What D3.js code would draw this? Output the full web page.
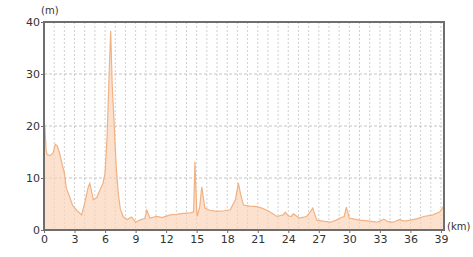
<!DOCTYPE html>
<html>
<head>
<meta charset="utf-8">
<script src="https://cdn.jsdelivr.net/npm/d3@7"></script>
<style>
  body { margin: 0; background: #fff; }
  svg { display: block; font-family: "DejaVu Sans", sans-serif; }
</style>
</head>
<body>
<div id="chart"></div>
<script>
// distance along the route (km) and elevation (m)
const distances = [
  0, 0.1, 0.2, 0.3, 0.6, 0.9, 1.1, 1.3, 1.5, 1.8, 2.0, 2.2, 2.5, 2.8, 3.2, 3.7,
  4.0, 4.35, 4.5, 4.85, 5.2, 5.5, 5.8, 6.0, 6.2, 6.4, 6.55, 6.7, 6.9, 7.1, 7.3,
  7.5, 7.8, 8.2, 8.6, 9.0, 9.5, 9.9, 10.1, 10.4, 11.1, 11.6, 12.4, 13.0, 13.7,
  14.4, 14.7, 14.83, 15.0, 15.06, 15.3, 15.5, 15.8, 16.3, 17.0, 17.7, 18.3,
  18.8, 19.1, 19.3, 19.6, 20.2, 20.9, 21.4, 21.9, 22.4, 22.9, 23.5, 23.7, 24.0,
  24.3, 24.5, 25.1, 25.8, 26.2, 26.4, 26.8, 27.4, 28.1, 28.6, 29.1, 29.5, 29.7,
  30.0, 31.0, 32.0, 32.7, 33.1, 33.4, 33.8, 34.3, 34.9, 35.4, 36.0, 36.7, 37.3,
  38.2, 38.9, 39.25
];
const elevations = [
  21.5, 19.5, 15.5, 14.5, 14.3, 14.8, 16.5, 16.2, 15, 12.5, 11, 8, 6.5, 4.8, 3.8, 2.9,
  5.2, 8.3, 9, 5.8, 6.3, 7.7, 9, 11, 18, 30, 38.3, 28, 20, 12, 7,
  4, 2.5, 2, 2.5, 1.5, 2, 2.2, 3.8, 2.3, 2.6, 2.4, 2.9, 3.0, 3.2,
  3.3, 3.5, 13.1, 4, 2.6, 4.5, 8.3, 4.2, 3.8, 3.6, 3.7, 3.9,
  5.8, 9, 7, 4.8, 4.6, 4.5, 4.2, 3.8, 3.2, 2.6, 2.9, 3.4, 2.7,
  2.6, 3.1, 2.3, 2.6, 3.6, 4.2, 1.9, 1.7, 1.5, 1.8, 2.3, 2.6, 4.4,
  2.3, 1.9, 1.7, 1.5, 1.8, 2.1, 1.6, 1.5, 2.0, 1.7, 1.9, 2.2, 2.6,
  2.9, 3.5, 4.5
];
const xTicks = [0, 3, 6, 9, 12, 15, 18, 21, 24, 27, 30, 33, 36, 39];
const yTicks = [0, 10, 20, 30, 40];

const profile = distances.map((d, i) => ({ km: d, m: elevations[i] }));

const width = 473, height = 257;
const margin = { top: 22, right: 29, bottom: 27, left: 44 };

const svg = d3.select("#chart").append("svg")
  .attr("width", width)
  .attr("height", height);

const x = d3.scaleLinear().domain([0, 39.3]).range([margin.left, width - margin.right]);
const y = d3.scaleLinear().domain([0, 40]).range([height - margin.bottom, margin.top]);

// grid
svg.append("g")
  .selectAll("line")
  .data(d3.range(1, 40))
  .join("line")
  .attr("x1", (d) => x(d))
  .attr("x2", (d) => x(d))
  .attr("y1", y(40))
  .attr("y2", y(0))
  .attr("stroke", "#d0d0d0")
  .attr("stroke-width", 1)
  .attr("stroke-dasharray", "2,2");

svg.append("g")
  .selectAll("line")
  .data(yTicks.slice(1, -1))
  .join("line")
  .attr("x1", x(0))
  .attr("x2", x(39.3))
  .attr("y1", (d) => y(d))
  .attr("y2", (d) => y(d))
  .attr("stroke", "#c4c4c4")
  .attr("stroke-width", 1)
  .attr("stroke-dasharray", "3,2");

// area + line
const area = d3.area()
  .x((d) => x(d.km))
  .y0(y(0))
  .y1((d) => y(d.m));

const line = d3.line()
  .x((d) => x(d.km))
  .y((d) => y(d.m));

svg.append("path")
  .datum(profile)
  .attr("d", area)
  .attr("fill", "#fbd3b4")
  .attr("opacity", 0.65);

svg.append("path")
  .datum(profile)
  .attr("d", line)
  .attr("fill", "none")
  .attr("stroke", "#f2b182")
  .attr("stroke-width", 1.2);

// frame
svg.append("rect")
  .attr("x", x(0))
  .attr("y", y(40))
  .attr("width", x(39.3) - x(0))
  .attr("height", y(0) - y(40))
  .attr("fill", "none")
  .attr("stroke", "#6e6e6e")
  .attr("stroke-width", 2);

// axes
const xAxis = svg.append("g")
  .attr("transform", `translate(0, ${y(0)})`)
  .call(d3.axisBottom(x).tickValues(xTicks).tickSize(3).tickPadding(2));

const yAxis = svg.append("g")
  .attr("transform", `translate(${x(0)}, 0)`)
  .call(d3.axisLeft(y).tickValues(yTicks).tickSize(3).tickPadding(1));

[xAxis, yAxis].forEach((g) => {
  g.select(".domain").remove();
  g.selectAll(".tick line").attr("stroke", "#6e6e6e");
  g.selectAll(".tick text")
    .attr("fill", "#333")
    .attr("font-size", 11)
    .attr("font-family", "DejaVu Sans, sans-serif");
});

// unit labels
svg.append("text")
  .attr("x", 41)
  .attr("y", 14)
  .attr("font-size", 10)
  .attr("fill", "#333")
  .text("(m)");

svg.append("text")
  .attr("x", 447)
  .attr("y", 230)
  .attr("font-size", 10)
  .attr("fill", "#333")
  .text("(km)");
</script>
</body>
</html>
